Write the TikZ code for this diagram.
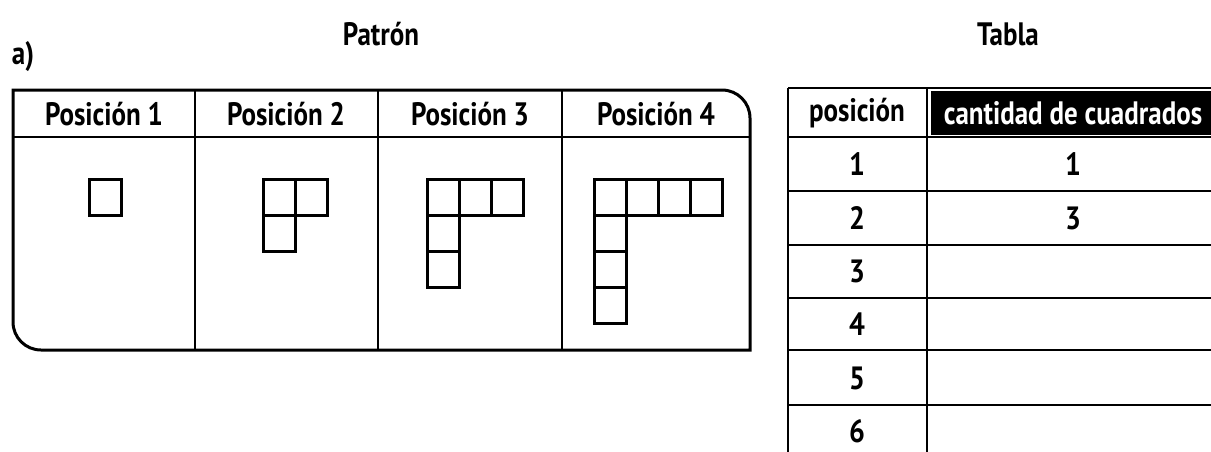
\documentclass[tikz,border=0pt]{standalone}
\usepackage{fontspec}
\setmainfont{PT Sans}
\tikzstyle{square} = [draw, line width=3pt, minimum width=32pt, minimum height=36pt, inner sep=0pt, anchor=north west]
\tikzstyle{frame} = [draw, line width=3pt]
\tikzstyle{grid line} = [draw, line width=2.6pt]
\tikzstyle{title text} = [font=\fontsize{27}{27}\selectfont\bfseries, yscale=1.2, inner sep=0pt]
\tikzstyle{head text} = [font=\fontsize{27}{27}\selectfont\bfseries, yscale=1.2, inner sep=0pt]
\tikzstyle{entry} = [font=\fontsize{28}{28}\selectfont\bfseries, yscale=1.15, inner sep=0pt]
\begin{document}
\begin{tikzpicture}[x=1pt, y=-1pt]
    \useasboundingbox (0,0) rectangle (1211,451);
    % Titles
    \node[title text] (part) at (23,57) {a)};
    \node[title text] (pattern) at (381,34) {Patrón};
    \node[title text] (table) at (1008,34) {Tabla};

    % Pattern panel with two rounded corners
    \path[frame] (41,350) .. controls (25.5,350) and (13,337.5) .. (13,322)
        -- (13,90) -- (722,90) .. controls (737.5,90) and (750,102.5) .. (750,118)
        -- (750,350) -- cycle;
    \path[grid line] (13,137) -- (750,137);
    \foreach \x in {195, 378, 562}
        \path[grid line] (\x,90) -- (\x,350);
    \foreach \cx/\n in {104/1, 286/2, 470/3, 656/4}
        \node[head text] (pos\n) at (\cx,114) {Posición \n};

    % The squares of each position
    \foreach \k/\x in {1/88, 2/262, 3/426, 4/593} {
        \foreach \c in {1,...,\k} {
            \node[square] (h\k\c) at ({\x+(\c-1)*32},178) {};
            \node[square] (v\k\c) at (\x,{178+(\c-1)*36}) {};
        }
    }

    % Table
    \fill[black] (931,91) rectangle (1220,135);
    \foreach \y in {88, 137, 191, 245, 298, 350, 405}
        \path[grid line] (788,\y) -- (1220,\y);
    \foreach \x in {788, 927}
        \path[grid line] (\x,88) -- (\x,460);
    \node[head text] (colpos) at (857,113) {posición};
    \node[head text, text=white] (colnum) at (1073,113) {cantidad de cuadrados};
    \foreach \y/\n in {164/1, 218/2, 271/3, 324/4, 378/5, 431/6}
        \node[entry] (row\n) at (857,\y) {\n};
    \foreach \y/\v in {164/1, 218/3}
        \node[entry] (val\v) at (1073,\y) {\v};
\end{tikzpicture}
\end{document}
